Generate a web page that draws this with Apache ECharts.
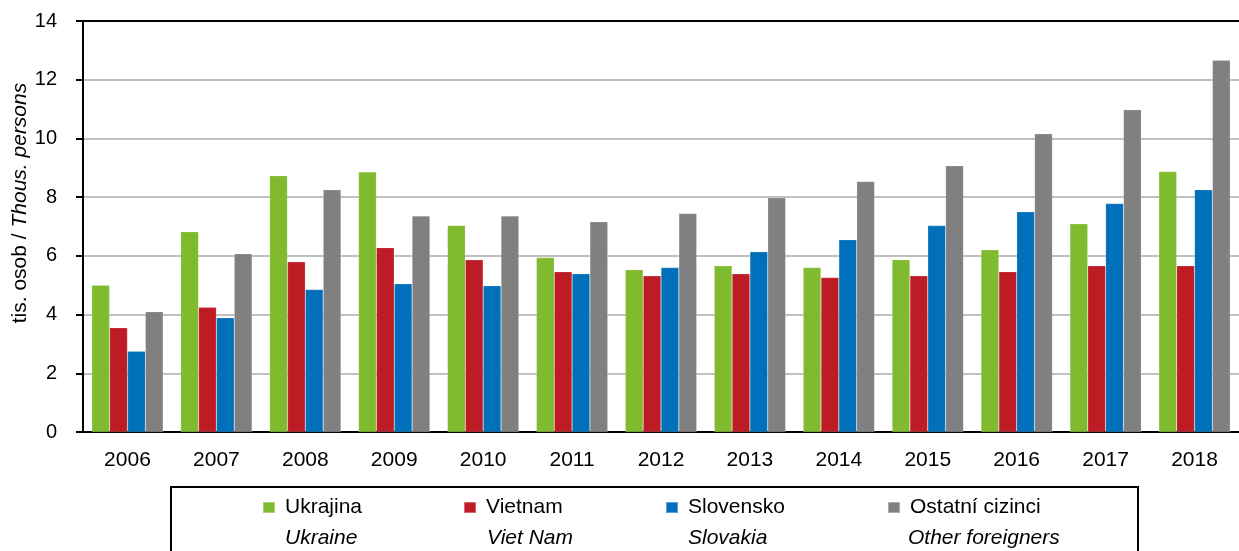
<!DOCTYPE html>
<html>
<head>
<meta charset="utf-8">
<script src="https://cdn.jsdelivr.net/npm/echarts@6/dist/echarts.min.js"></script>
<style>
  html, body { margin: 0; padding: 0; background: #fff; }
  #chart { width: 1239px; height: 551px; }
</style>
</head>
<body>
<div id="chart"></div>
<script>
const years = ['2006', '2007', '2008', '2009', '2010', '2011', '2012', '2013', '2014', '2015', '2016', '2017', '2018'];
const ukrajina = [5.0, 6.82, 8.73, 8.86, 7.03, 5.94, 5.53, 5.66, 5.60, 5.87, 6.21, 7.09, 8.87];
const vietnam = [3.55, 4.25, 5.80, 6.28, 5.87, 5.46, 5.32, 5.39, 5.26, 5.32, 5.46, 5.66, 5.66];
const slovensko = [2.75, 3.89, 4.85, 5.05, 4.98, 5.39, 5.60, 6.14, 6.55, 7.03, 7.50, 7.78, 8.25];
const ostatni = [4.10, 6.07, 8.25, 7.36, 7.36, 7.16, 7.44, 7.98, 8.53, 9.07, 10.16, 10.98, 12.66];

const seriesNames = ['Ukrajina', 'Vietnam', 'Slovensko', 'Ostatní cizinci'];
const seriesNamesEn = ['Ukraine', 'Viet Nam', 'Slovakia', 'Other foreigners'];
const colors = ['#80BA2E', '#BE1C24', '#0070BA', '#808080'];

const font = 'Arial, "Liberation Sans", sans-serif';
const legendLeft = [262, 463, 665, 887];
const enLeft = [285, 487, 688, 908];

const echart = echarts.init(document.getElementById('chart'));

const option = {
  animation: false,
  textStyle: { fontFamily: font },
  grid: { left: 83, top: 21, width: 1166, bottom: 119 },
  legend: seriesNames.map((n, i) => ({
    data: [n],
    left: legendLeft[i],
    top: 497,
    padding: 0,
    icon: 'rect',
    itemWidth: 12,
    itemHeight: 11,
    textStyle: { fontSize: 21, color: '#000', fontFamily: font, padding: [0, 0, 0, 5] }
  })),
  xAxis: [
    {
      type: 'category',
      data: years,
      axisLine: { lineStyle: { color: '#000', width: 2 } },
      axisTick: { length: 5, lineStyle: { color: '#000', width: 2 } },
      axisLabel: { color: '#000', fontSize: 21, margin: 18, fontFamily: font }
    },
    {
      type: 'category',
      data: years,
      position: 'top',
      axisLine: { lineStyle: { color: '#000', width: 2 } },
      axisTick: { show: false },
      axisLabel: { show: false }
    }
  ],
  yAxis: {
    type: 'value',
    min: 0,
    max: 14,
    interval: 2,
    axisLine: { show: true, lineStyle: { color: '#000', width: 2 } },
    axisTick: { show: true, length: 7, lineStyle: { color: '#000', width: 2 } },
    axisLabel: { color: '#000', fontSize: 20, margin: 26, fontFamily: font },
    splitLine: { lineStyle: { color: '#C0C0C0', width: 2 } }
  },
  graphic: [
    {
      type: 'text',
      x: 20,
      y: 203,
      rotation: Math.PI / 2,
      style: {
        text: '{a|tis. osob / }{b|Thous. persons}',
        align: 'center',
        verticalAlign: 'middle',
        rich: {
          a: { fontSize: 21, fontFamily: font, fill: '#000' },
          b: { fontSize: 21, fontFamily: font, fill: '#000', fontStyle: 'italic' }
        }
      }
    },
    {
      type: 'rect',
      shape: { x: 171, y: 487, width: 967, height: 80 },
      style: { fill: 'none', stroke: '#000', lineWidth: 2 }
    }
  ].concat(seriesNamesEn.map((t, i) => ({
    type: 'text',
    x: enLeft[i],
    y: 538,
    style: {
      text: t,
      fontSize: 21,
      fontStyle: 'italic',
      fontFamily: font,
      fill: '#000',
      verticalAlign: 'middle'
    }
  }))),
  series: [ukrajina, vietnam, slovensko, ostatni].map((d, i) => ({
    name: seriesNames[i],
    type: 'bar',
    data: d,
    barGap: '0%',
    barCategoryGap: '19.7%',
    itemStyle: { color: colors[i], borderColor: 'rgba(255,255,255,0.35)', borderWidth: 0.5 }
  }))
};

echart.setOption(option);
</script>
</body>
</html>
